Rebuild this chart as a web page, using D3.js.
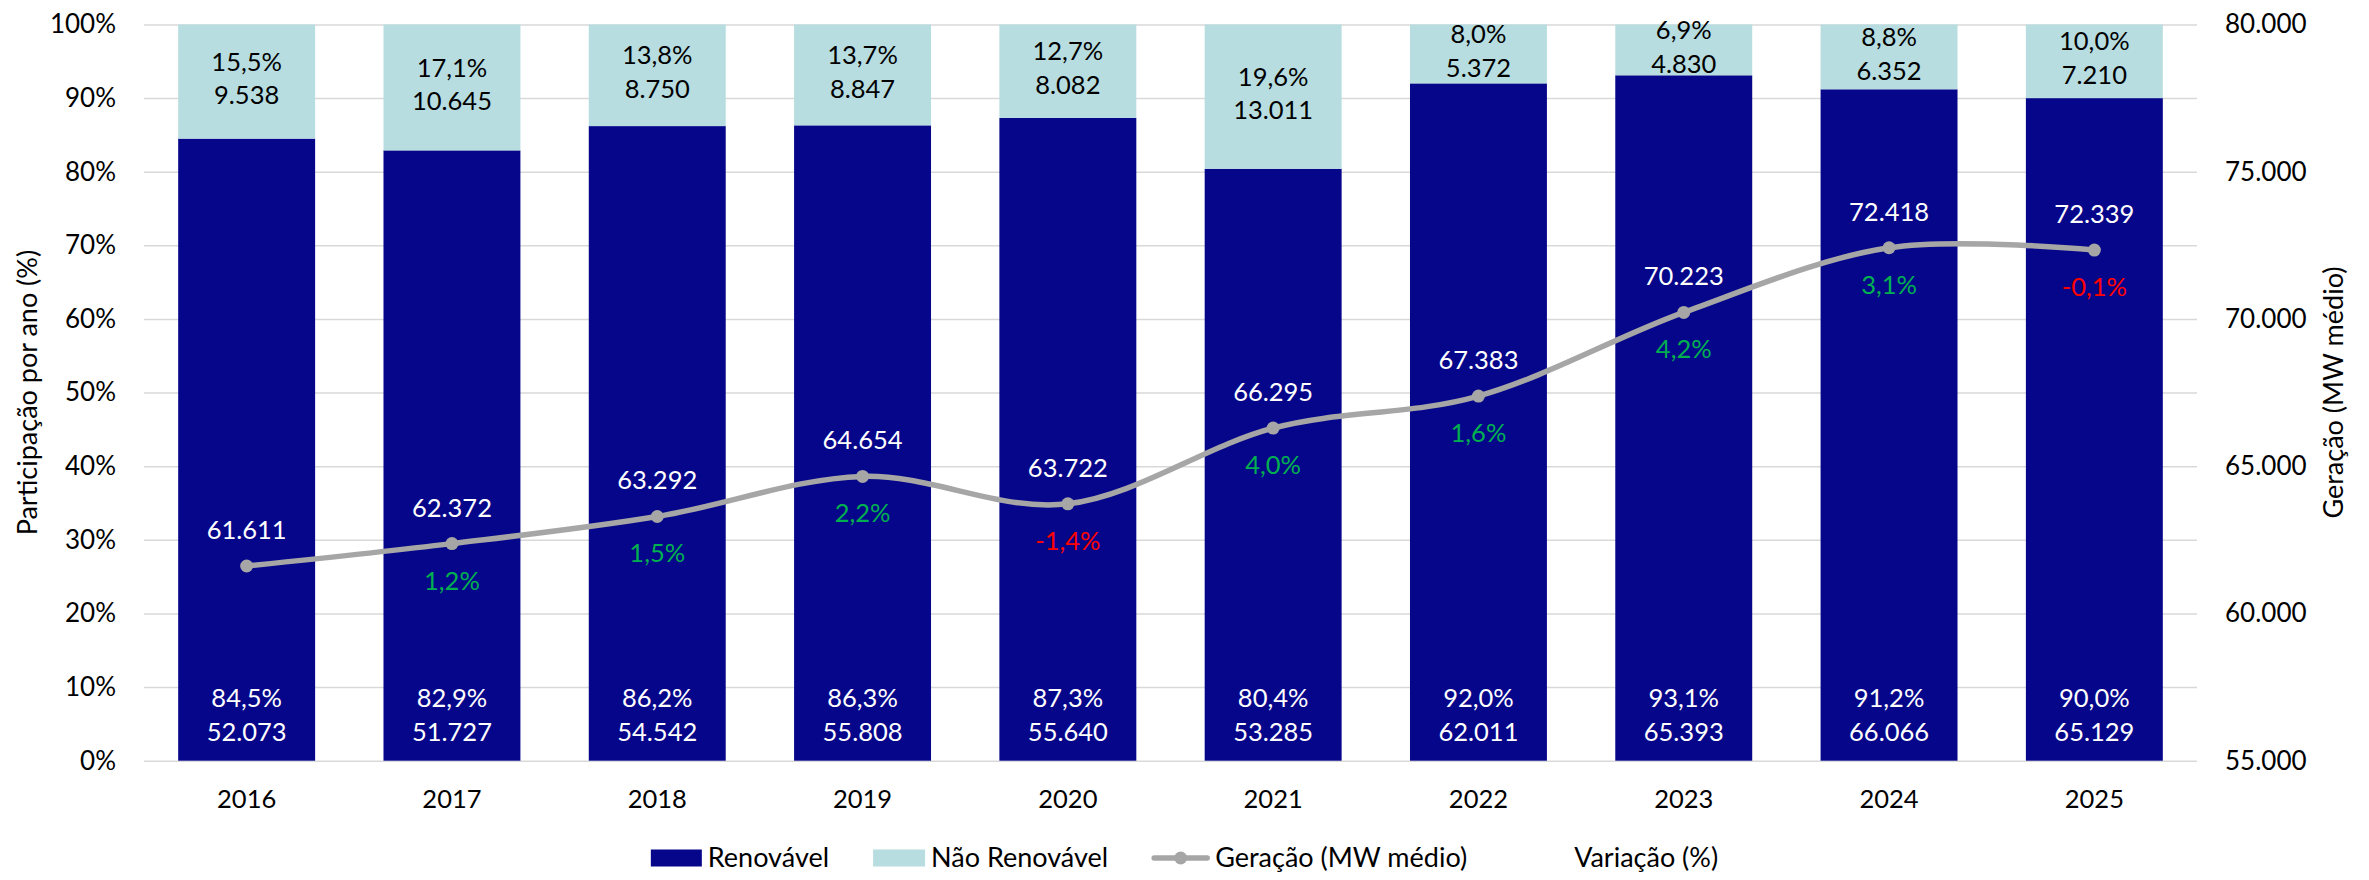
<!DOCTYPE html>
<html><head><meta charset="utf-8">
<script src="https://cdn.jsdelivr.net/npm/d3@7/dist/d3.min.js"></script>
<style>
body{margin:0;background:#fff}
svg{display:block}
text{font-family:Lato,'Open Sans',sans-serif}
</style>
</head><body>
<svg id="chart" width="2369" height="880"></svg>
<script>
// ---------- DATA ----------
const years = ['2016','2017','2018','2019','2020','2021','2022','2023','2024','2025'];
const renovavelPct = [84.5, 82.9, 86.2, 86.3, 87.3, 80.4, 92.0, 93.1, 91.2, 90.0];
const renovavelMW = [52073, 51727, 54542, 55808, 55640, 53285, 62011, 65393, 66066, 65129];
const naoRenovavelPct = [15.5, 17.1, 13.8, 13.7, 12.7, 19.6, 8.0, 6.9, 8.8, 10.0];
const naoRenovavelMW = [9538, 10645, 8750, 8847, 8082, 13011, 5372, 4830, 6352, 7210];
const geracao = [61611, 62372, 63292, 64654, 63722, 66295, 67383, 70223, 72418, 72339];
const variacao = [null, 1.2, 1.5, 2.2, -1.4, 4.0, 1.6, 4.2, 3.1, -0.1];
const leftTicks = [0, 10, 20, 30, 40, 50, 60, 70, 80, 90, 100];
const rightTicks = [55000, 60000, 65000, 70000, 75000, 80000];
const seriesNames = ['Renovável', 'Não Renovável', 'Geração (MW médio)', 'Variação (%)'];
const leftTitle = 'Participação por ano (%)';
const rightTitle = 'Geração (MW médio)';

// ---------- STYLE ----------
const C_REN = '#06068A', C_NREN = '#B7DDE0', C_LINE = '#A6A6A6', C_GRID = '#D9D9D9';
const C_POS = '#00B050', C_NEG = '#FF0000';
const W = 2369, H = 880;
const plot = {x0: 144, x1: 2197, y0: 24.5, y1: 760.7};
const FS_TICK = 26, FS_X = 25.5, FS_TITLE = 27, FS_LEG = 27, FS_DATA = 25.5;

const loc = d3.formatLocale({decimal: ',', thousands: '.', grouping: [3], currency: ['R$', ''], minus: '-'});
const fmtInt = loc.format(',.0f');
const fmtPct = loc.format('.1f');

const svg = d3.select('#chart');

const x = d3.scaleBand().domain(years).range([plot.x0, plot.x1]).paddingInner(0.333).paddingOuter(0.1665);
const yL = d3.scaleLinear().domain([0, 100]).range([plot.y1, plot.y0]);
const yR = d3.scaleLinear().domain([55000, 80000]).range([plot.y1, plot.y0]);

// gridlines + left axis
const gL = svg.append('g').attr('transform', `translate(${plot.x0},0)`)
  .call(d3.axisLeft(yL).tickValues(leftTicks).tickSize(-(plot.x1 - plot.x0)).tickPadding(28).tickFormat(d => d + '%'));
gL.select('.domain').remove();
gL.selectAll('.tick line').attr('stroke', C_GRID).attr('stroke-width', 1.5);
gL.selectAll('.tick text').attr('font-size', FS_TICK).attr('fill', '#000').attr('font-family', 'Lato');

// right axis
const gR = svg.append('g').attr('transform', `translate(${plot.x1},0)`)
  .call(d3.axisRight(yR).tickValues(rightTicks).tickSize(0).tickPadding(28).tickFormat(fmtInt));
gR.select('.domain').remove();
gR.selectAll('.tick text').attr('font-size', FS_TICK).attr('fill', '#000').attr('font-family', 'Lato');

// bottom axis
const gB = svg.append('g').attr('transform', `translate(0,${plot.y1})`)
  .call(d3.axisBottom(x).tickSize(0));
gB.select('.domain').remove();
gB.selectAll('.tick text').attr('y', 38).attr('dy', '0.35em').attr('font-size', FS_X).attr('fill', '#000').attr('font-family', 'Lato');

// axis titles
svg.append('text').attr('transform', `translate(28,${(plot.y0 + plot.y1) / 2}) rotate(-90)`)
  .attr('text-anchor', 'middle').attr('dy', '0.35em').attr('font-size', FS_TITLE).attr('fill', '#000').text(leftTitle);
svg.append('text').attr('transform', `translate(2334,${(plot.y0 + plot.y1) / 2}) rotate(-90)`)
  .attr('text-anchor', 'middle').attr('dy', '0.35em').attr('font-size', FS_TITLE).attr('fill', '#000').text(rightTitle);

// stacked bars
const rows = years.map((y, i) => ({year: y, ren: renovavelPct[i], nren: naoRenovavelPct[i],
  renMW: renovavelMW[i], nrenMW: naoRenovavelMW[i], ger: geracao[i], vari: variacao[i]}));
const stack = d3.stack().keys(['ren', 'nren'])(rows);
const colors = {ren: C_REN, nren: C_NREN};
const bars = svg.append('g');
stack.forEach(layer => {
  bars.selectAll(null).data(layer).join('rect')
    .attr('x', d => x(d.data.year))
    .attr('width', x.bandwidth())
    .attr('y', d => yL(Math.min(d[1], 100)))
    .attr('height', d => yL(d[0]) - yL(Math.min(d[1], 100)))
    .attr('fill', colors[layer.key]);
});

// bar labels
const lbl = svg.append('g').attr('font-size', FS_DATA).attr('text-anchor', 'middle');
rows.forEach(d => {
  const cx = x(d.year) + x.bandwidth() / 2;
  // renovável: inside base
  const t = lbl.append('text').attr('fill', '#fff');
  t.append('tspan').attr('x', cx).attr('y', yL(0) - 62.5).attr('dy', '0.35em').text(fmtPct(d.ren) + '%');
  t.append('tspan').attr('x', cx).attr('y', yL(0) - 29).attr('dy', '0.35em').text(fmtInt(d.renMW));
  // não renovável: centered
  const mid = (yL(d.ren) + yL(100)) / 2 - 3;
  const t2 = lbl.append('text').attr('fill', '#000');
  t2.append('tspan').attr('x', cx).attr('y', mid - 16.8).attr('dy', '0.35em').text(fmtPct(d.nren) + '%');
  t2.append('tspan').attr('x', cx).attr('y', mid + 16.8).attr('dy', '0.35em').text(fmtInt(d.nrenMW));
});

// line
const line = d3.line().x(d => x(d.year) + x.bandwidth() / 2).y(d => yR(d.ger)).curve(d3.curveCardinal.tension(0));
svg.append('path').datum(rows).attr('d', line).attr('fill', 'none').attr('stroke', C_LINE)
  .attr('stroke-width', 5.5).attr('stroke-linecap', 'round').attr('stroke-linejoin', 'round');
svg.append('g').selectAll('circle').data(rows).join('circle')
  .attr('cx', d => x(d.year) + x.bandwidth() / 2).attr('cy', d => yR(d.ger)).attr('r', 6.5).attr('fill', C_LINE);

// line labels
svg.append('g').attr('font-size', FS_DATA).attr('text-anchor', 'middle').selectAll('text').data(rows).join('text')
  .attr('x', d => x(d.year) + x.bandwidth() / 2).attr('y', d => yR(d.ger) - 36).attr('dy', '0.35em')
  .attr('fill', '#fff').text(d => fmtInt(d.ger));
svg.append('g').attr('font-size', FS_DATA).attr('text-anchor', 'middle').selectAll('text').data(rows.filter(d => d.vari !== null)).join('text')
  .attr('x', d => x(d.year) + x.bandwidth() / 2).attr('y', d => yR(d.ger) + 37).attr('dy', '0.35em')
  .attr('fill', d => d.vari < 0 ? C_NEG : C_POS).text(d => fmtPct(d.vari) + '%');

// legend
const leg = svg.append('g').attr('font-size', FS_LEG);
const legY = 858;
const items = [
  {name: seriesNames[0], type: 'rect', color: C_REN, sw: 51},
  {name: seriesNames[1], type: 'rect', color: C_NREN, sw: 52},
  {name: seriesNames[2], type: 'line', color: C_LINE, sw: 57},
  {name: seriesNames[3], type: 'none', sw: 57}
];
const nodes = items.map(it => {
  const g = leg.append('g');
  if (it.type === 'rect') g.append('rect').attr('x', 0).attr('y', legY - 8.5).attr('width', it.sw).attr('height', 17).attr('fill', it.color);
  if (it.type === 'line') {
    g.append('line').attr('x1', 2).attr('x2', it.sw - 2).attr('y1', legY).attr('y2', legY).attr('stroke', it.color).attr('stroke-width', 5.5).attr('stroke-linecap', 'round');
    g.append('circle').attr('cx', it.sw / 2).attr('cy', legY).attr('r', 6.5).attr('fill', it.color);
  }
  const t = g.append('text').attr('x', it.sw + 6).attr('y', legY).attr('dy', '0.35em').attr('fill', '#000').text(it.name);
  return {g, w: it.sw + 6 + t.node().getComputedTextLength()};
});
const gap = 44;
const total = d3.sum(nodes, n => n.w) + gap * (nodes.length - 1);
let cx = W / 2 - total / 2;
nodes.forEach(n => { n.g.attr('transform', `translate(${cx},0)`); cx += n.w + gap; });
</script>
</body></html>
